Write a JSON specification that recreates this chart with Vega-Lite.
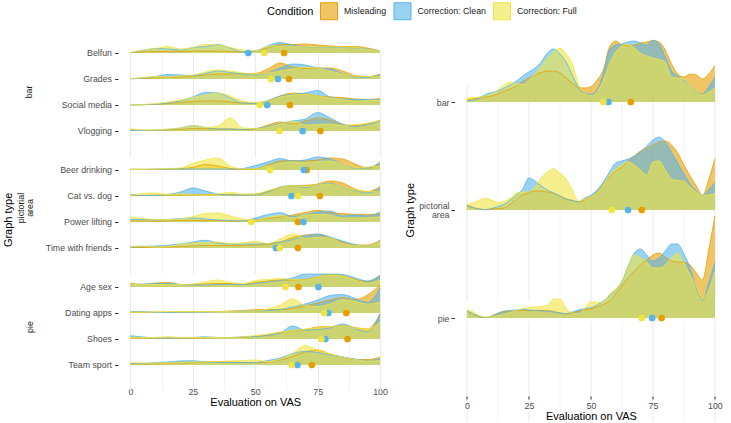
{
"$schema": "https://vega.github.io/schema/vega-lite/v6.json",
"padding": {"left": 3, "top": 2, "right": 0, "bottom": 0},
"datasets": {
"bar": [
{"i":"Belfun","c":"A","x":0,"d":0.5},{"i":"Belfun","c":"A","x":5,"d":1},{"i":"Belfun","c":"A","x":10,"d":1.5},{"i":"Belfun","c":"A","x":15,"d":1.5},{"i":"Belfun","c":"A","x":20,"d":1.5},{"i":"Belfun","c":"A","x":25,"d":2},{"i":"Belfun","c":"A","x":30,"d":2},{"i":"Belfun","c":"A","x":35,"d":2},{"i":"Belfun","c":"A","x":40,"d":1.5},{"i":"Belfun","c":"A","x":45,"d":1},{"i":"Belfun","c":"A","x":50,"d":2},{"i":"Belfun","c":"A","x":55,"d":5},{"i":"Belfun","c":"A","x":60,"d":8.5},{"i":"Belfun","c":"A","x":65,"d":8.5},{"i":"Belfun","c":"A","x":70,"d":9},{"i":"Belfun","c":"A","x":75,"d":8},{"i":"Belfun","c":"A","x":80,"d":7},{"i":"Belfun","c":"A","x":85,"d":6.5},{"i":"Belfun","c":"A","x":90,"d":6.5},{"i":"Belfun","c":"A","x":95,"d":5},{"i":"Belfun","c":"A","x":100,"d":2},
{"i":"Belfun","c":"B","x":0,"d":0.5},{"i":"Belfun","c":"B","x":5,"d":2.5},{"i":"Belfun","c":"B","x":10,"d":4.5},{"i":"Belfun","c":"B","x":15,"d":4},{"i":"Belfun","c":"B","x":20,"d":3},{"i":"Belfun","c":"B","x":25,"d":5.5},{"i":"Belfun","c":"B","x":30,"d":6.5},{"i":"Belfun","c":"B","x":35,"d":8.5},{"i":"Belfun","c":"B","x":40,"d":5},{"i":"Belfun","c":"B","x":45,"d":1},{"i":"Belfun","c":"B","x":50,"d":2},{"i":"Belfun","c":"B","x":55,"d":7},{"i":"Belfun","c":"B","x":60,"d":10.5},{"i":"Belfun","c":"B","x":65,"d":8},{"i":"Belfun","c":"B","x":70,"d":6},{"i":"Belfun","c":"B","x":75,"d":5.5},{"i":"Belfun","c":"B","x":80,"d":5.5},{"i":"Belfun","c":"B","x":85,"d":5.5},{"i":"Belfun","c":"B","x":90,"d":5},{"i":"Belfun","c":"B","x":95,"d":4},{"i":"Belfun","c":"B","x":100,"d":1.5},
{"i":"Belfun","c":"C","x":0,"d":0.5},{"i":"Belfun","c":"C","x":5,"d":3},{"i":"Belfun","c":"C","x":10,"d":4.5},{"i":"Belfun","c":"C","x":15,"d":6.5},{"i":"Belfun","c":"C","x":20,"d":4},{"i":"Belfun","c":"C","x":25,"d":5.5},{"i":"Belfun","c":"C","x":30,"d":8.5},{"i":"Belfun","c":"C","x":35,"d":8},{"i":"Belfun","c":"C","x":40,"d":5.5},{"i":"Belfun","c":"C","x":45,"d":3},{"i":"Belfun","c":"C","x":50,"d":2},{"i":"Belfun","c":"C","x":55,"d":6.5},{"i":"Belfun","c":"C","x":60,"d":7},{"i":"Belfun","c":"C","x":65,"d":6.5},{"i":"Belfun","c":"C","x":70,"d":6},{"i":"Belfun","c":"C","x":75,"d":6},{"i":"Belfun","c":"C","x":80,"d":6},{"i":"Belfun","c":"C","x":85,"d":6},{"i":"Belfun","c":"C","x":90,"d":5.5},{"i":"Belfun","c":"C","x":95,"d":3.5},{"i":"Belfun","c":"C","x":100,"d":1.5},
{"i":"Grades","c":"A","x":0,"d":0.3},{"i":"Grades","c":"A","x":5,"d":0.5},{"i":"Grades","c":"A","x":10,"d":1},{"i":"Grades","c":"A","x":15,"d":1.5},{"i":"Grades","c":"A","x":20,"d":2},{"i":"Grades","c":"A","x":25,"d":3},{"i":"Grades","c":"A","x":30,"d":4},{"i":"Grades","c":"A","x":35,"d":5},{"i":"Grades","c":"A","x":40,"d":5},{"i":"Grades","c":"A","x":45,"d":5.5},{"i":"Grades","c":"A","x":50,"d":5.5},{"i":"Grades","c":"A","x":55,"d":10},{"i":"Grades","c":"A","x":60,"d":16},{"i":"Grades","c":"A","x":65,"d":12},{"i":"Grades","c":"A","x":70,"d":10.5},{"i":"Grades","c":"A","x":75,"d":11},{"i":"Grades","c":"A","x":80,"d":11},{"i":"Grades","c":"A","x":85,"d":8},{"i":"Grades","c":"A","x":90,"d":3.5},{"i":"Grades","c":"A","x":95,"d":2.5},{"i":"Grades","c":"A","x":100,"d":4.5},
{"i":"Grades","c":"B","x":0,"d":0.3},{"i":"Grades","c":"B","x":5,"d":1},{"i":"Grades","c":"B","x":10,"d":2.5},{"i":"Grades","c":"B","x":15,"d":4.5},{"i":"Grades","c":"B","x":20,"d":4},{"i":"Grades","c":"B","x":25,"d":3.5},{"i":"Grades","c":"B","x":30,"d":5.5},{"i":"Grades","c":"B","x":35,"d":8},{"i":"Grades","c":"B","x":40,"d":6.5},{"i":"Grades","c":"B","x":45,"d":5},{"i":"Grades","c":"B","x":50,"d":4},{"i":"Grades","c":"B","x":55,"d":6},{"i":"Grades","c":"B","x":60,"d":11},{"i":"Grades","c":"B","x":65,"d":15},{"i":"Grades","c":"B","x":70,"d":14},{"i":"Grades","c":"B","x":75,"d":11},{"i":"Grades","c":"B","x":80,"d":10},{"i":"Grades","c":"B","x":85,"d":5.5},{"i":"Grades","c":"B","x":90,"d":2},{"i":"Grades","c":"B","x":95,"d":1.5},{"i":"Grades","c":"B","x":100,"d":4.5},
{"i":"Grades","c":"C","x":0,"d":0.3},{"i":"Grades","c":"C","x":5,"d":1.5},{"i":"Grades","c":"C","x":10,"d":2.5},{"i":"Grades","c":"C","x":15,"d":2},{"i":"Grades","c":"C","x":20,"d":3},{"i":"Grades","c":"C","x":25,"d":4},{"i":"Grades","c":"C","x":30,"d":7},{"i":"Grades","c":"C","x":35,"d":9},{"i":"Grades","c":"C","x":40,"d":8},{"i":"Grades","c":"C","x":45,"d":6},{"i":"Grades","c":"C","x":50,"d":5},{"i":"Grades","c":"C","x":55,"d":6},{"i":"Grades","c":"C","x":60,"d":8},{"i":"Grades","c":"C","x":65,"d":10},{"i":"Grades","c":"C","x":70,"d":11.5},{"i":"Grades","c":"C","x":75,"d":11},{"i":"Grades","c":"C","x":80,"d":8},{"i":"Grades","c":"C","x":85,"d":5},{"i":"Grades","c":"C","x":90,"d":3},{"i":"Grades","c":"C","x":95,"d":2.5},{"i":"Grades","c":"C","x":100,"d":2.3},
{"i":"Social media","c":"A","x":0,"d":0},{"i":"Social media","c":"A","x":5,"d":0.3},{"i":"Social media","c":"A","x":10,"d":0.5},{"i":"Social media","c":"A","x":15,"d":1.5},{"i":"Social media","c":"A","x":20,"d":2.5},{"i":"Social media","c":"A","x":25,"d":3.5},{"i":"Social media","c":"A","x":30,"d":4},{"i":"Social media","c":"A","x":35,"d":4},{"i":"Social media","c":"A","x":40,"d":3},{"i":"Social media","c":"A","x":45,"d":2},{"i":"Social media","c":"A","x":50,"d":2},{"i":"Social media","c":"A","x":55,"d":4},{"i":"Social media","c":"A","x":60,"d":9},{"i":"Social media","c":"A","x":65,"d":12},{"i":"Social media","c":"A","x":70,"d":11},{"i":"Social media","c":"A","x":75,"d":9},{"i":"Social media","c":"A","x":80,"d":8},{"i":"Social media","c":"A","x":85,"d":7.5},{"i":"Social media","c":"A","x":90,"d":6},{"i":"Social media","c":"A","x":95,"d":5.5},{"i":"Social media","c":"A","x":100,"d":6.5},
{"i":"Social media","c":"B","x":0,"d":0},{"i":"Social media","c":"B","x":5,"d":0.3},{"i":"Social media","c":"B","x":10,"d":0.8},{"i":"Social media","c":"B","x":15,"d":2},{"i":"Social media","c":"B","x":20,"d":4},{"i":"Social media","c":"B","x":25,"d":8},{"i":"Social media","c":"B","x":30,"d":12.5},{"i":"Social media","c":"B","x":35,"d":12},{"i":"Social media","c":"B","x":40,"d":7},{"i":"Social media","c":"B","x":45,"d":2},{"i":"Social media","c":"B","x":50,"d":1.5},{"i":"Social media","c":"B","x":55,"d":4.5},{"i":"Social media","c":"B","x":60,"d":9},{"i":"Social media","c":"B","x":65,"d":10.5},{"i":"Social media","c":"B","x":70,"d":12},{"i":"Social media","c":"B","x":75,"d":14.5},{"i":"Social media","c":"B","x":80,"d":8},{"i":"Social media","c":"B","x":85,"d":6},{"i":"Social media","c":"B","x":90,"d":5.5},{"i":"Social media","c":"B","x":95,"d":5.5},{"i":"Social media","c":"B","x":100,"d":5.5},
{"i":"Social media","c":"C","x":0,"d":0},{"i":"Social media","c":"C","x":5,"d":0.5},{"i":"Social media","c":"C","x":10,"d":1.5},{"i":"Social media","c":"C","x":15,"d":3},{"i":"Social media","c":"C","x":20,"d":5},{"i":"Social media","c":"C","x":25,"d":7.5},{"i":"Social media","c":"C","x":30,"d":10},{"i":"Social media","c":"C","x":35,"d":12},{"i":"Social media","c":"C","x":40,"d":9},{"i":"Social media","c":"C","x":45,"d":4},{"i":"Social media","c":"C","x":50,"d":2.5},{"i":"Social media","c":"C","x":55,"d":4},{"i":"Social media","c":"C","x":60,"d":8},{"i":"Social media","c":"C","x":65,"d":10},{"i":"Social media","c":"C","x":70,"d":10.5},{"i":"Social media","c":"C","x":75,"d":9},{"i":"Social media","c":"C","x":80,"d":7},{"i":"Social media","c":"C","x":85,"d":5.5},{"i":"Social media","c":"C","x":90,"d":4},{"i":"Social media","c":"C","x":95,"d":4.5},{"i":"Social media","c":"C","x":100,"d":5},
{"i":"Vlogging","c":"A","x":0,"d":1},{"i":"Vlogging","c":"A","x":5,"d":0.8},{"i":"Vlogging","c":"A","x":10,"d":0.8},{"i":"Vlogging","c":"A","x":15,"d":1},{"i":"Vlogging","c":"A","x":20,"d":1.5},{"i":"Vlogging","c":"A","x":25,"d":2.5},{"i":"Vlogging","c":"A","x":30,"d":2.5},{"i":"Vlogging","c":"A","x":35,"d":2},{"i":"Vlogging","c":"A","x":40,"d":2},{"i":"Vlogging","c":"A","x":45,"d":1.5},{"i":"Vlogging","c":"A","x":50,"d":2},{"i":"Vlogging","c":"A","x":55,"d":6},{"i":"Vlogging","c":"A","x":60,"d":9},{"i":"Vlogging","c":"A","x":65,"d":7},{"i":"Vlogging","c":"A","x":70,"d":10},{"i":"Vlogging","c":"A","x":75,"d":13},{"i":"Vlogging","c":"A","x":80,"d":11},{"i":"Vlogging","c":"A","x":85,"d":6.5},{"i":"Vlogging","c":"A","x":90,"d":5.5},{"i":"Vlogging","c":"A","x":95,"d":7},{"i":"Vlogging","c":"A","x":100,"d":11},
{"i":"Vlogging","c":"B","x":0,"d":0.5},{"i":"Vlogging","c":"B","x":5,"d":0.5},{"i":"Vlogging","c":"B","x":10,"d":0.8},{"i":"Vlogging","c":"B","x":15,"d":1.5},{"i":"Vlogging","c":"B","x":20,"d":3},{"i":"Vlogging","c":"B","x":25,"d":5.5},{"i":"Vlogging","c":"B","x":30,"d":3.5},{"i":"Vlogging","c":"B","x":35,"d":2},{"i":"Vlogging","c":"B","x":40,"d":2},{"i":"Vlogging","c":"B","x":45,"d":1.5},{"i":"Vlogging","c":"B","x":50,"d":2.5},{"i":"Vlogging","c":"B","x":55,"d":4.5},{"i":"Vlogging","c":"B","x":60,"d":7.5},{"i":"Vlogging","c":"B","x":65,"d":10},{"i":"Vlogging","c":"B","x":70,"d":12},{"i":"Vlogging","c":"B","x":75,"d":18.5},{"i":"Vlogging","c":"B","x":80,"d":13},{"i":"Vlogging","c":"B","x":85,"d":7},{"i":"Vlogging","c":"B","x":90,"d":4.5},{"i":"Vlogging","c":"B","x":95,"d":6.5},{"i":"Vlogging","c":"B","x":100,"d":10},
{"i":"Vlogging","c":"C","x":0,"d":2.3},{"i":"Vlogging","c":"C","x":5,"d":1},{"i":"Vlogging","c":"C","x":10,"d":1},{"i":"Vlogging","c":"C","x":15,"d":2},{"i":"Vlogging","c":"C","x":20,"d":3},{"i":"Vlogging","c":"C","x":25,"d":5.5},{"i":"Vlogging","c":"C","x":30,"d":3.5},{"i":"Vlogging","c":"C","x":35,"d":5},{"i":"Vlogging","c":"C","x":40,"d":13},{"i":"Vlogging","c":"C","x":45,"d":3},{"i":"Vlogging","c":"C","x":50,"d":2.5},{"i":"Vlogging","c":"C","x":55,"d":3.5},{"i":"Vlogging","c":"C","x":60,"d":7},{"i":"Vlogging","c":"C","x":65,"d":10},{"i":"Vlogging","c":"C","x":70,"d":6},{"i":"Vlogging","c":"C","x":75,"d":6.5},{"i":"Vlogging","c":"C","x":80,"d":7},{"i":"Vlogging","c":"C","x":85,"d":5.5},{"i":"Vlogging","c":"C","x":90,"d":6.5},{"i":"Vlogging","c":"C","x":95,"d":8},{"i":"Vlogging","c":"C","x":100,"d":10.5},
{"i":"Belfun","c":"A","x":61.6,"d":0,"k":"m"},{"i":"Belfun","c":"B","x":47.2,"d":0,"k":"m"},{"i":"Belfun","c":"C","x":53.6,"d":0,"k":"m"},
{"i":"Grades","c":"A","x":63.5,"d":0,"k":"m"},{"i":"Grades","c":"B","x":59.1,"d":0,"k":"m"},{"i":"Grades","c":"C","x":56.4,"d":0,"k":"m"},
{"i":"Social media","c":"A","x":63.9,"d":0,"k":"m"},{"i":"Social media","c":"B","x":54.8,"d":0,"k":"m"},{"i":"Social media","c":"C","x":51.8,"d":0,"k":"m"},
{"i":"Vlogging","c":"A","x":76.1,"d":0,"k":"m"},{"i":"Vlogging","c":"B","x":69.0,"d":0,"k":"m"},{"i":"Vlogging","c":"C","x":59.7,"d":0,"k":"m"}
],
"pict": [
{"i":"Beer drinking","c":"A","x":0,"d":1},{"i":"Beer drinking","c":"A","x":5,"d":0.8},{"i":"Beer drinking","c":"A","x":10,"d":0.8},{"i":"Beer drinking","c":"A","x":15,"d":1},{"i":"Beer drinking","c":"A","x":20,"d":1.5},{"i":"Beer drinking","c":"A","x":25,"d":2.5},{"i":"Beer drinking","c":"A","x":30,"d":5.5},{"i":"Beer drinking","c":"A","x":35,"d":4},{"i":"Beer drinking","c":"A","x":40,"d":1.5},{"i":"Beer drinking","c":"A","x":45,"d":0.5},{"i":"Beer drinking","c":"A","x":50,"d":1},{"i":"Beer drinking","c":"A","x":55,"d":5},{"i":"Beer drinking","c":"A","x":60,"d":9},{"i":"Beer drinking","c":"A","x":65,"d":9.5},{"i":"Beer drinking","c":"A","x":70,"d":9},{"i":"Beer drinking","c":"A","x":75,"d":10},{"i":"Beer drinking","c":"A","x":80,"d":12},{"i":"Beer drinking","c":"A","x":85,"d":11},{"i":"Beer drinking","c":"A","x":90,"d":6},{"i":"Beer drinking","c":"A","x":95,"d":2},{"i":"Beer drinking","c":"A","x":100,"d":7},
{"i":"Beer drinking","c":"B","x":0,"d":0.5},{"i":"Beer drinking","c":"B","x":5,"d":0.5},{"i":"Beer drinking","c":"B","x":10,"d":0.8},{"i":"Beer drinking","c":"B","x":15,"d":1},{"i":"Beer drinking","c":"B","x":20,"d":1},{"i":"Beer drinking","c":"B","x":25,"d":1},{"i":"Beer drinking","c":"B","x":30,"d":1},{"i":"Beer drinking","c":"B","x":35,"d":1},{"i":"Beer drinking","c":"B","x":40,"d":0.8},{"i":"Beer drinking","c":"B","x":45,"d":1.5},{"i":"Beer drinking","c":"B","x":50,"d":4.5},{"i":"Beer drinking","c":"B","x":55,"d":8},{"i":"Beer drinking","c":"B","x":60,"d":11.5},{"i":"Beer drinking","c":"B","x":65,"d":9},{"i":"Beer drinking","c":"B","x":70,"d":10},{"i":"Beer drinking","c":"B","x":75,"d":13},{"i":"Beer drinking","c":"B","x":80,"d":11},{"i":"Beer drinking","c":"B","x":85,"d":6},{"i":"Beer drinking","c":"B","x":90,"d":2},{"i":"Beer drinking","c":"B","x":95,"d":2},{"i":"Beer drinking","c":"B","x":100,"d":8},
{"i":"Beer drinking","c":"C","x":0,"d":0.5},{"i":"Beer drinking","c":"C","x":5,"d":0.5},{"i":"Beer drinking","c":"C","x":10,"d":0.8},{"i":"Beer drinking","c":"C","x":15,"d":1.5},{"i":"Beer drinking","c":"C","x":20,"d":2},{"i":"Beer drinking","c":"C","x":25,"d":6.5},{"i":"Beer drinking","c":"C","x":30,"d":10},{"i":"Beer drinking","c":"C","x":35,"d":12},{"i":"Beer drinking","c":"C","x":40,"d":4},{"i":"Beer drinking","c":"C","x":45,"d":1},{"i":"Beer drinking","c":"C","x":50,"d":1},{"i":"Beer drinking","c":"C","x":55,"d":4},{"i":"Beer drinking","c":"C","x":60,"d":7},{"i":"Beer drinking","c":"C","x":65,"d":8},{"i":"Beer drinking","c":"C","x":70,"d":7.5},{"i":"Beer drinking","c":"C","x":75,"d":8.5},{"i":"Beer drinking","c":"C","x":80,"d":9},{"i":"Beer drinking","c":"C","x":85,"d":6},{"i":"Beer drinking","c":"C","x":90,"d":2.5},{"i":"Beer drinking","c":"C","x":95,"d":3},{"i":"Beer drinking","c":"C","x":100,"d":4},
{"i":"Cat vs. dog","c":"A","x":0,"d":0.5},{"i":"Cat vs. dog","c":"A","x":5,"d":0.5},{"i":"Cat vs. dog","c":"A","x":10,"d":0.8},{"i":"Cat vs. dog","c":"A","x":15,"d":1},{"i":"Cat vs. dog","c":"A","x":20,"d":1},{"i":"Cat vs. dog","c":"A","x":25,"d":1},{"i":"Cat vs. dog","c":"A","x":30,"d":1.5},{"i":"Cat vs. dog","c":"A","x":35,"d":1.5},{"i":"Cat vs. dog","c":"A","x":40,"d":1.5},{"i":"Cat vs. dog","c":"A","x":45,"d":1},{"i":"Cat vs. dog","c":"A","x":50,"d":2},{"i":"Cat vs. dog","c":"A","x":55,"d":4.5},{"i":"Cat vs. dog","c":"A","x":60,"d":8.5},{"i":"Cat vs. dog","c":"A","x":65,"d":10},{"i":"Cat vs. dog","c":"A","x":70,"d":10.5},{"i":"Cat vs. dog","c":"A","x":75,"d":12},{"i":"Cat vs. dog","c":"A","x":80,"d":15},{"i":"Cat vs. dog","c":"A","x":85,"d":13},{"i":"Cat vs. dog","c":"A","x":90,"d":7},{"i":"Cat vs. dog","c":"A","x":95,"d":4.5},{"i":"Cat vs. dog","c":"A","x":100,"d":9.3},
{"i":"Cat vs. dog","c":"B","x":0,"d":1.5},{"i":"Cat vs. dog","c":"B","x":5,"d":0.5},{"i":"Cat vs. dog","c":"B","x":10,"d":0.5},{"i":"Cat vs. dog","c":"B","x":15,"d":1.5},{"i":"Cat vs. dog","c":"B","x":20,"d":4},{"i":"Cat vs. dog","c":"B","x":25,"d":8},{"i":"Cat vs. dog","c":"B","x":30,"d":5},{"i":"Cat vs. dog","c":"B","x":35,"d":2},{"i":"Cat vs. dog","c":"B","x":40,"d":1},{"i":"Cat vs. dog","c":"B","x":45,"d":1},{"i":"Cat vs. dog","c":"B","x":50,"d":1},{"i":"Cat vs. dog","c":"B","x":55,"d":4},{"i":"Cat vs. dog","c":"B","x":60,"d":9},{"i":"Cat vs. dog","c":"B","x":65,"d":10.5},{"i":"Cat vs. dog","c":"B","x":70,"d":8.5},{"i":"Cat vs. dog","c":"B","x":75,"d":11},{"i":"Cat vs. dog","c":"B","x":80,"d":12.7},{"i":"Cat vs. dog","c":"B","x":85,"d":8.5},{"i":"Cat vs. dog","c":"B","x":90,"d":5.5},{"i":"Cat vs. dog","c":"B","x":95,"d":3},{"i":"Cat vs. dog","c":"B","x":100,"d":7.7},
{"i":"Cat vs. dog","c":"C","x":0,"d":0.5},{"i":"Cat vs. dog","c":"C","x":5,"d":2.5},{"i":"Cat vs. dog","c":"C","x":10,"d":3},{"i":"Cat vs. dog","c":"C","x":15,"d":1.5},{"i":"Cat vs. dog","c":"C","x":20,"d":2.3},{"i":"Cat vs. dog","c":"C","x":25,"d":1},{"i":"Cat vs. dog","c":"C","x":30,"d":1},{"i":"Cat vs. dog","c":"C","x":35,"d":2},{"i":"Cat vs. dog","c":"C","x":40,"d":3.7},{"i":"Cat vs. dog","c":"C","x":45,"d":2},{"i":"Cat vs. dog","c":"C","x":50,"d":2},{"i":"Cat vs. dog","c":"C","x":55,"d":5.5},{"i":"Cat vs. dog","c":"C","x":60,"d":8.5},{"i":"Cat vs. dog","c":"C","x":65,"d":10.3},{"i":"Cat vs. dog","c":"C","x":70,"d":9.3},{"i":"Cat vs. dog","c":"C","x":75,"d":11},{"i":"Cat vs. dog","c":"C","x":80,"d":12},{"i":"Cat vs. dog","c":"C","x":85,"d":8.5},{"i":"Cat vs. dog","c":"C","x":90,"d":6},{"i":"Cat vs. dog","c":"C","x":95,"d":4.5},{"i":"Cat vs. dog","c":"C","x":100,"d":4.3},
{"i":"Power lifting","c":"A","x":0,"d":1},{"i":"Power lifting","c":"A","x":5,"d":1},{"i":"Power lifting","c":"A","x":10,"d":1},{"i":"Power lifting","c":"A","x":15,"d":1},{"i":"Power lifting","c":"A","x":20,"d":1.5},{"i":"Power lifting","c":"A","x":25,"d":1.5},{"i":"Power lifting","c":"A","x":30,"d":1.5},{"i":"Power lifting","c":"A","x":35,"d":1.5},{"i":"Power lifting","c":"A","x":40,"d":1},{"i":"Power lifting","c":"A","x":45,"d":1},{"i":"Power lifting","c":"A","x":50,"d":2},{"i":"Power lifting","c":"A","x":55,"d":3.5},{"i":"Power lifting","c":"A","x":60,"d":5},{"i":"Power lifting","c":"A","x":65,"d":7},{"i":"Power lifting","c":"A","x":70,"d":9.5},{"i":"Power lifting","c":"A","x":75,"d":11.7},{"i":"Power lifting","c":"A","x":80,"d":9.5},{"i":"Power lifting","c":"A","x":85,"d":8.5},{"i":"Power lifting","c":"A","x":90,"d":7.7},{"i":"Power lifting","c":"A","x":95,"d":7.5},{"i":"Power lifting","c":"A","x":100,"d":8.3},
{"i":"Power lifting","c":"B","x":0,"d":2.7},{"i":"Power lifting","c":"B","x":5,"d":2.5},{"i":"Power lifting","c":"B","x":10,"d":2},{"i":"Power lifting","c":"B","x":15,"d":2.5},{"i":"Power lifting","c":"B","x":20,"d":3.5},{"i":"Power lifting","c":"B","x":25,"d":4},{"i":"Power lifting","c":"B","x":30,"d":3},{"i":"Power lifting","c":"B","x":35,"d":2},{"i":"Power lifting","c":"B","x":40,"d":1.5},{"i":"Power lifting","c":"B","x":45,"d":1},{"i":"Power lifting","c":"B","x":50,"d":4},{"i":"Power lifting","c":"B","x":55,"d":7.5},{"i":"Power lifting","c":"B","x":60,"d":9.3},{"i":"Power lifting","c":"B","x":65,"d":5.5},{"i":"Power lifting","c":"B","x":70,"d":7.5},{"i":"Power lifting","c":"B","x":75,"d":10},{"i":"Power lifting","c":"B","x":80,"d":11},{"i":"Power lifting","c":"B","x":85,"d":6},{"i":"Power lifting","c":"B","x":90,"d":7},{"i":"Power lifting","c":"B","x":95,"d":6},{"i":"Power lifting","c":"B","x":100,"d":10},
{"i":"Power lifting","c":"C","x":0,"d":5},{"i":"Power lifting","c":"C","x":5,"d":3.5},{"i":"Power lifting","c":"C","x":10,"d":2.5},{"i":"Power lifting","c":"C","x":15,"d":2.5},{"i":"Power lifting","c":"C","x":20,"d":3},{"i":"Power lifting","c":"C","x":25,"d":5.5},{"i":"Power lifting","c":"C","x":30,"d":8.5},{"i":"Power lifting","c":"C","x":35,"d":9},{"i":"Power lifting","c":"C","x":40,"d":6},{"i":"Power lifting","c":"C","x":45,"d":3},{"i":"Power lifting","c":"C","x":50,"d":1.5},{"i":"Power lifting","c":"C","x":55,"d":4.5},{"i":"Power lifting","c":"C","x":60,"d":6.5},{"i":"Power lifting","c":"C","x":65,"d":4},{"i":"Power lifting","c":"C","x":70,"d":7},{"i":"Power lifting","c":"C","x":75,"d":7.5},{"i":"Power lifting","c":"C","x":80,"d":7},{"i":"Power lifting","c":"C","x":85,"d":4},{"i":"Power lifting","c":"C","x":90,"d":4},{"i":"Power lifting","c":"C","x":95,"d":4.3},{"i":"Power lifting","c":"C","x":100,"d":5},
{"i":"Time with friends","c":"A","x":0,"d":0.5},{"i":"Time with friends","c":"A","x":5,"d":0.5},{"i":"Time with friends","c":"A","x":10,"d":0.8},{"i":"Time with friends","c":"A","x":15,"d":1},{"i":"Time with friends","c":"A","x":20,"d":1.5},{"i":"Time with friends","c":"A","x":25,"d":2},{"i":"Time with friends","c":"A","x":30,"d":2.5},{"i":"Time with friends","c":"A","x":35,"d":2.5},{"i":"Time with friends","c":"A","x":40,"d":2.5},{"i":"Time with friends","c":"A","x":45,"d":2.5},{"i":"Time with friends","c":"A","x":50,"d":3},{"i":"Time with friends","c":"A","x":55,"d":3.5},{"i":"Time with friends","c":"A","x":60,"d":6},{"i":"Time with friends","c":"A","x":65,"d":10.5},{"i":"Time with friends","c":"A","x":70,"d":13},{"i":"Time with friends","c":"A","x":75,"d":13.7},{"i":"Time with friends","c":"A","x":80,"d":10},{"i":"Time with friends","c":"A","x":85,"d":6},{"i":"Time with friends","c":"A","x":90,"d":3},{"i":"Time with friends","c":"A","x":95,"d":3},{"i":"Time with friends","c":"A","x":100,"d":7.7},
{"i":"Time with friends","c":"B","x":0,"d":1},{"i":"Time with friends","c":"B","x":5,"d":1.5},{"i":"Time with friends","c":"B","x":10,"d":2},{"i":"Time with friends","c":"B","x":15,"d":2.7},{"i":"Time with friends","c":"B","x":20,"d":4},{"i":"Time with friends","c":"B","x":25,"d":6},{"i":"Time with friends","c":"B","x":30,"d":7.7},{"i":"Time with friends","c":"B","x":35,"d":5},{"i":"Time with friends","c":"B","x":40,"d":4},{"i":"Time with friends","c":"B","x":45,"d":4},{"i":"Time with friends","c":"B","x":50,"d":4},{"i":"Time with friends","c":"B","x":55,"d":4.5},{"i":"Time with friends","c":"B","x":60,"d":6},{"i":"Time with friends","c":"B","x":65,"d":8.5},{"i":"Time with friends","c":"B","x":70,"d":12},{"i":"Time with friends","c":"B","x":75,"d":14},{"i":"Time with friends","c":"B","x":80,"d":11},{"i":"Time with friends","c":"B","x":85,"d":7},{"i":"Time with friends","c":"B","x":90,"d":3.5},{"i":"Time with friends","c":"B","x":95,"d":1.8},{"i":"Time with friends","c":"B","x":100,"d":7.7},
{"i":"Time with friends","c":"C","x":0,"d":1.5},{"i":"Time with friends","c":"C","x":5,"d":2},{"i":"Time with friends","c":"C","x":10,"d":1},{"i":"Time with friends","c":"C","x":15,"d":1.5},{"i":"Time with friends","c":"C","x":20,"d":3.5},{"i":"Time with friends","c":"C","x":25,"d":5},{"i":"Time with friends","c":"C","x":30,"d":5.5},{"i":"Time with friends","c":"C","x":35,"d":6},{"i":"Time with friends","c":"C","x":40,"d":4.5},{"i":"Time with friends","c":"C","x":45,"d":5},{"i":"Time with friends","c":"C","x":50,"d":6.7},{"i":"Time with friends","c":"C","x":55,"d":4.5},{"i":"Time with friends","c":"C","x":60,"d":9},{"i":"Time with friends","c":"C","x":65,"d":14},{"i":"Time with friends","c":"C","x":70,"d":9.5},{"i":"Time with friends","c":"C","x":75,"d":10.5},{"i":"Time with friends","c":"C","x":80,"d":10},{"i":"Time with friends","c":"C","x":85,"d":4.5},{"i":"Time with friends","c":"C","x":90,"d":2.5},{"i":"Time with friends","c":"C","x":95,"d":2},{"i":"Time with friends","c":"C","x":100,"d":7},
{"i":"Beer drinking","c":"A","x":70.6,"d":0,"k":"m"},{"i":"Beer drinking","c":"B","x":69.5,"d":0,"k":"m"},{"i":"Beer drinking","c":"C","x":55.9,"d":0,"k":"m"},
{"i":"Cat vs. dog","c":"A","x":75.9,"d":0,"k":"m"},{"i":"Cat vs. dog","c":"B","x":64.5,"d":0,"k":"m"},{"i":"Cat vs. dog","c":"C","x":67.1,"d":0,"k":"m"},
{"i":"Power lifting","c":"A","x":67.1,"d":0,"k":"m"},{"i":"Power lifting","c":"B","x":69.3,"d":0,"k":"m"},{"i":"Power lifting","c":"C","x":48.4,"d":0,"k":"m"},
{"i":"Time with friends","c":"A","x":67.1,"d":0,"k":"m"},{"i":"Time with friends","c":"B","x":58.3,"d":0,"k":"m"},{"i":"Time with friends","c":"C","x":59.8,"d":0,"k":"m"}
],
"pie": [
{"i":"Age sex","c":"A","x":0,"d":3.7},{"i":"Age sex","c":"A","x":5,"d":2.5},{"i":"Age sex","c":"A","x":10,"d":4},{"i":"Age sex","c":"A","x":15,"d":4.5},{"i":"Age sex","c":"A","x":20,"d":2.5},{"i":"Age sex","c":"A","x":25,"d":2.5},{"i":"Age sex","c":"A","x":30,"d":3},{"i":"Age sex","c":"A","x":35,"d":3.5},{"i":"Age sex","c":"A","x":40,"d":3.5},{"i":"Age sex","c":"A","x":45,"d":2.5},{"i":"Age sex","c":"A","x":50,"d":4.5},{"i":"Age sex","c":"A","x":55,"d":6},{"i":"Age sex","c":"A","x":60,"d":7},{"i":"Age sex","c":"A","x":65,"d":7},{"i":"Age sex","c":"A","x":70,"d":7.5},{"i":"Age sex","c":"A","x":75,"d":10},{"i":"Age sex","c":"A","x":80,"d":12.5},{"i":"Age sex","c":"A","x":85,"d":11.5},{"i":"Age sex","c":"A","x":90,"d":7.5},{"i":"Age sex","c":"A","x":95,"d":5.5},{"i":"Age sex","c":"A","x":100,"d":12},
{"i":"Age sex","c":"B","x":0,"d":2.5},{"i":"Age sex","c":"B","x":5,"d":3},{"i":"Age sex","c":"B","x":10,"d":3.5},{"i":"Age sex","c":"B","x":15,"d":3.5},{"i":"Age sex","c":"B","x":20,"d":2.5},{"i":"Age sex","c":"B","x":25,"d":2},{"i":"Age sex","c":"B","x":30,"d":2},{"i":"Age sex","c":"B","x":35,"d":2.5},{"i":"Age sex","c":"B","x":40,"d":2.5},{"i":"Age sex","c":"B","x":45,"d":2.5},{"i":"Age sex","c":"B","x":50,"d":3.5},{"i":"Age sex","c":"B","x":55,"d":5},{"i":"Age sex","c":"B","x":60,"d":6.5},{"i":"Age sex","c":"B","x":65,"d":9},{"i":"Age sex","c":"B","x":70,"d":12.9},{"i":"Age sex","c":"B","x":75,"d":12.9},{"i":"Age sex","c":"B","x":80,"d":12.9},{"i":"Age sex","c":"B","x":85,"d":12.5},{"i":"Age sex","c":"B","x":90,"d":9},{"i":"Age sex","c":"B","x":95,"d":6},{"i":"Age sex","c":"B","x":100,"d":11.3},
{"i":"Age sex","c":"C","x":0,"d":2.5},{"i":"Age sex","c":"C","x":5,"d":2.5},{"i":"Age sex","c":"C","x":10,"d":2.5},{"i":"Age sex","c":"C","x":15,"d":2.5},{"i":"Age sex","c":"C","x":20,"d":2.5},{"i":"Age sex","c":"C","x":25,"d":3},{"i":"Age sex","c":"C","x":30,"d":5},{"i":"Age sex","c":"C","x":35,"d":7},{"i":"Age sex","c":"C","x":40,"d":4.5},{"i":"Age sex","c":"C","x":45,"d":3.5},{"i":"Age sex","c":"C","x":50,"d":6.5},{"i":"Age sex","c":"C","x":55,"d":7.5},{"i":"Age sex","c":"C","x":60,"d":8.5},{"i":"Age sex","c":"C","x":65,"d":7.5},{"i":"Age sex","c":"C","x":70,"d":7},{"i":"Age sex","c":"C","x":75,"d":10},{"i":"Age sex","c":"C","x":80,"d":12},{"i":"Age sex","c":"C","x":85,"d":11},{"i":"Age sex","c":"C","x":90,"d":7},{"i":"Age sex","c":"C","x":95,"d":4},{"i":"Age sex","c":"C","x":100,"d":7},
{"i":"Dating apps","c":"A","x":0,"d":1},{"i":"Dating apps","c":"A","x":5,"d":1},{"i":"Dating apps","c":"A","x":10,"d":1},{"i":"Dating apps","c":"A","x":15,"d":1},{"i":"Dating apps","c":"A","x":20,"d":1},{"i":"Dating apps","c":"A","x":25,"d":1.5},{"i":"Dating apps","c":"A","x":30,"d":1.5},{"i":"Dating apps","c":"A","x":35,"d":1.5},{"i":"Dating apps","c":"A","x":40,"d":2},{"i":"Dating apps","c":"A","x":45,"d":2.5},{"i":"Dating apps","c":"A","x":50,"d":3.3},{"i":"Dating apps","c":"A","x":55,"d":3.5},{"i":"Dating apps","c":"A","x":60,"d":3.5},{"i":"Dating apps","c":"A","x":65,"d":4.5},{"i":"Dating apps","c":"A","x":70,"d":7},{"i":"Dating apps","c":"A","x":75,"d":10},{"i":"Dating apps","c":"A","x":80,"d":13},{"i":"Dating apps","c":"A","x":85,"d":15.5},{"i":"Dating apps","c":"A","x":90,"d":13.5},{"i":"Dating apps","c":"A","x":95,"d":18},{"i":"Dating apps","c":"A","x":100,"d":28},
{"i":"Dating apps","c":"B","x":0,"d":1.5},{"i":"Dating apps","c":"B","x":5,"d":1.5},{"i":"Dating apps","c":"B","x":10,"d":0.5},{"i":"Dating apps","c":"B","x":15,"d":0.5},{"i":"Dating apps","c":"B","x":20,"d":1},{"i":"Dating apps","c":"B","x":25,"d":1},{"i":"Dating apps","c":"B","x":30,"d":1},{"i":"Dating apps","c":"B","x":35,"d":1.5},{"i":"Dating apps","c":"B","x":40,"d":1.5},{"i":"Dating apps","c":"B","x":45,"d":2},{"i":"Dating apps","c":"B","x":50,"d":2},{"i":"Dating apps","c":"B","x":55,"d":2.5},{"i":"Dating apps","c":"B","x":60,"d":3.5},{"i":"Dating apps","c":"B","x":65,"d":6},{"i":"Dating apps","c":"B","x":70,"d":9},{"i":"Dating apps","c":"B","x":75,"d":13},{"i":"Dating apps","c":"B","x":80,"d":17.5},{"i":"Dating apps","c":"B","x":85,"d":18.5},{"i":"Dating apps","c":"B","x":90,"d":14.5},{"i":"Dating apps","c":"B","x":95,"d":10.5},{"i":"Dating apps","c":"B","x":100,"d":25},
{"i":"Dating apps","c":"C","x":0,"d":1},{"i":"Dating apps","c":"C","x":5,"d":1},{"i":"Dating apps","c":"C","x":10,"d":1},{"i":"Dating apps","c":"C","x":15,"d":1.5},{"i":"Dating apps","c":"C","x":20,"d":1.5},{"i":"Dating apps","c":"C","x":25,"d":1.5},{"i":"Dating apps","c":"C","x":30,"d":1.5},{"i":"Dating apps","c":"C","x":35,"d":1.5},{"i":"Dating apps","c":"C","x":40,"d":1.5},{"i":"Dating apps","c":"C","x":45,"d":2},{"i":"Dating apps","c":"C","x":50,"d":2},{"i":"Dating apps","c":"C","x":55,"d":4},{"i":"Dating apps","c":"C","x":60,"d":8},{"i":"Dating apps","c":"C","x":65,"d":14},{"i":"Dating apps","c":"C","x":70,"d":7.5},{"i":"Dating apps","c":"C","x":75,"d":6.5},{"i":"Dating apps","c":"C","x":80,"d":9},{"i":"Dating apps","c":"C","x":85,"d":13.3},{"i":"Dating apps","c":"C","x":90,"d":11.5},{"i":"Dating apps","c":"C","x":95,"d":9},{"i":"Dating apps","c":"C","x":100,"d":11},
{"i":"Shoes","c":"A","x":0,"d":1},{"i":"Shoes","c":"A","x":5,"d":1},{"i":"Shoes","c":"A","x":10,"d":1},{"i":"Shoes","c":"A","x":15,"d":1},{"i":"Shoes","c":"A","x":20,"d":1},{"i":"Shoes","c":"A","x":25,"d":1},{"i":"Shoes","c":"A","x":30,"d":1},{"i":"Shoes","c":"A","x":35,"d":1.5},{"i":"Shoes","c":"A","x":40,"d":1.5},{"i":"Shoes","c":"A","x":45,"d":2},{"i":"Shoes","c":"A","x":50,"d":2.5},{"i":"Shoes","c":"A","x":55,"d":4},{"i":"Shoes","c":"A","x":60,"d":6.5},{"i":"Shoes","c":"A","x":65,"d":8.3},{"i":"Shoes","c":"A","x":70,"d":9.5},{"i":"Shoes","c":"A","x":75,"d":12},{"i":"Shoes","c":"A","x":80,"d":12.5},{"i":"Shoes","c":"A","x":85,"d":13.3},{"i":"Shoes","c":"A","x":90,"d":11.5},{"i":"Shoes","c":"A","x":95,"d":10},{"i":"Shoes","c":"A","x":100,"d":25},
{"i":"Shoes","c":"B","x":0,"d":3.3},{"i":"Shoes","c":"B","x":5,"d":2},{"i":"Shoes","c":"B","x":10,"d":1},{"i":"Shoes","c":"B","x":15,"d":1},{"i":"Shoes","c":"B","x":20,"d":1},{"i":"Shoes","c":"B","x":25,"d":1.5},{"i":"Shoes","c":"B","x":30,"d":2.3},{"i":"Shoes","c":"B","x":35,"d":1.5},{"i":"Shoes","c":"B","x":40,"d":1.5},{"i":"Shoes","c":"B","x":45,"d":2},{"i":"Shoes","c":"B","x":50,"d":2.5},{"i":"Shoes","c":"B","x":55,"d":3.5},{"i":"Shoes","c":"B","x":60,"d":6},{"i":"Shoes","c":"B","x":65,"d":13},{"i":"Shoes","c":"B","x":70,"d":9},{"i":"Shoes","c":"B","x":75,"d":9.5},{"i":"Shoes","c":"B","x":80,"d":11},{"i":"Shoes","c":"B","x":85,"d":15},{"i":"Shoes","c":"B","x":90,"d":10.5},{"i":"Shoes","c":"B","x":95,"d":7},{"i":"Shoes","c":"B","x":100,"d":25},
{"i":"Shoes","c":"C","x":0,"d":1.5},{"i":"Shoes","c":"C","x":5,"d":1.5},{"i":"Shoes","c":"C","x":10,"d":1.5},{"i":"Shoes","c":"C","x":15,"d":2.3},{"i":"Shoes","c":"C","x":20,"d":1.5},{"i":"Shoes","c":"C","x":25,"d":1.5},{"i":"Shoes","c":"C","x":30,"d":1.5},{"i":"Shoes","c":"C","x":35,"d":1.5},{"i":"Shoes","c":"C","x":40,"d":1.5},{"i":"Shoes","c":"C","x":45,"d":2},{"i":"Shoes","c":"C","x":50,"d":3.5},{"i":"Shoes","c":"C","x":55,"d":5},{"i":"Shoes","c":"C","x":60,"d":7},{"i":"Shoes","c":"C","x":65,"d":8.5},{"i":"Shoes","c":"C","x":70,"d":10},{"i":"Shoes","c":"C","x":75,"d":11},{"i":"Shoes","c":"C","x":80,"d":12.5},{"i":"Shoes","c":"C","x":85,"d":13},{"i":"Shoes","c":"C","x":90,"d":11},{"i":"Shoes","c":"C","x":95,"d":10},{"i":"Shoes","c":"C","x":100,"d":16.7},
{"i":"Team sport","c":"A","x":0,"d":1},{"i":"Team sport","c":"A","x":5,"d":1},{"i":"Team sport","c":"A","x":10,"d":1},{"i":"Team sport","c":"A","x":15,"d":1.5},{"i":"Team sport","c":"A","x":20,"d":2},{"i":"Team sport","c":"A","x":25,"d":2.5},{"i":"Team sport","c":"A","x":30,"d":3},{"i":"Team sport","c":"A","x":35,"d":3.5},{"i":"Team sport","c":"A","x":40,"d":3},{"i":"Team sport","c":"A","x":45,"d":2.5},{"i":"Team sport","c":"A","x":50,"d":2.5},{"i":"Team sport","c":"A","x":55,"d":3},{"i":"Team sport","c":"A","x":60,"d":5},{"i":"Team sport","c":"A","x":65,"d":8.5},{"i":"Team sport","c":"A","x":70,"d":13},{"i":"Team sport","c":"A","x":75,"d":15},{"i":"Team sport","c":"A","x":80,"d":11},{"i":"Team sport","c":"A","x":85,"d":8},{"i":"Team sport","c":"A","x":90,"d":5.5},{"i":"Team sport","c":"A","x":95,"d":5.5},{"i":"Team sport","c":"A","x":100,"d":7.7},
{"i":"Team sport","c":"B","x":0,"d":1.5},{"i":"Team sport","c":"B","x":5,"d":1.5},{"i":"Team sport","c":"B","x":10,"d":2.5},{"i":"Team sport","c":"B","x":15,"d":3},{"i":"Team sport","c":"B","x":20,"d":4},{"i":"Team sport","c":"B","x":25,"d":4.3},{"i":"Team sport","c":"B","x":30,"d":3},{"i":"Team sport","c":"B","x":35,"d":2.5},{"i":"Team sport","c":"B","x":40,"d":2.5},{"i":"Team sport","c":"B","x":45,"d":2.5},{"i":"Team sport","c":"B","x":50,"d":2.5},{"i":"Team sport","c":"B","x":55,"d":4.5},{"i":"Team sport","c":"B","x":60,"d":7},{"i":"Team sport","c":"B","x":65,"d":11.5},{"i":"Team sport","c":"B","x":70,"d":13.5},{"i":"Team sport","c":"B","x":75,"d":12.5},{"i":"Team sport","c":"B","x":80,"d":10},{"i":"Team sport","c":"B","x":85,"d":8},{"i":"Team sport","c":"B","x":90,"d":6},{"i":"Team sport","c":"B","x":95,"d":4.5},{"i":"Team sport","c":"B","x":100,"d":6},
{"i":"Team sport","c":"C","x":0,"d":2.3},{"i":"Team sport","c":"C","x":5,"d":2},{"i":"Team sport","c":"C","x":10,"d":2},{"i":"Team sport","c":"C","x":15,"d":2},{"i":"Team sport","c":"C","x":20,"d":2.5},{"i":"Team sport","c":"C","x":25,"d":3},{"i":"Team sport","c":"C","x":30,"d":3},{"i":"Team sport","c":"C","x":35,"d":3.5},{"i":"Team sport","c":"C","x":40,"d":4},{"i":"Team sport","c":"C","x":45,"d":4.5},{"i":"Team sport","c":"C","x":50,"d":5},{"i":"Team sport","c":"C","x":55,"d":3.5},{"i":"Team sport","c":"C","x":60,"d":6},{"i":"Team sport","c":"C","x":65,"d":12},{"i":"Team sport","c":"C","x":70,"d":19.3},{"i":"Team sport","c":"C","x":75,"d":15},{"i":"Team sport","c":"C","x":80,"d":11},{"i":"Team sport","c":"C","x":85,"d":8},{"i":"Team sport","c":"C","x":90,"d":5.5},{"i":"Team sport","c":"C","x":95,"d":4},{"i":"Team sport","c":"C","x":100,"d":4.3},
{"i":"Age sex","c":"A","x":67.3,"d":0,"k":"m"},{"i":"Age sex","c":"B","x":75.3,"d":0,"k":"m"},{"i":"Age sex","c":"C","x":62.1,"d":0,"k":"m"},
{"i":"Dating apps","c":"A","x":86.5,"d":0,"k":"m"},{"i":"Dating apps","c":"B","x":79.3,"d":0,"k":"m"},{"i":"Dating apps","c":"C","x":77.6,"d":0,"k":"m"},
{"i":"Shoes","c":"A","x":87.0,"d":0,"k":"m"},{"i":"Shoes","c":"B","x":78.1,"d":0,"k":"m"},{"i":"Shoes","c":"C","x":76.5,"d":0,"k":"m"},
{"i":"Team sport","c":"A","x":72.7,"d":0,"k":"m"},{"i":"Team sport","c":"B","x":66.9,"d":0,"k":"m"},{"i":"Team sport","c":"C","x":64.6,"d":0,"k":"m"}
],
"right": [
{"g":"bar","c":"A","x":0,"d":2},{"g":"bar","c":"A","x":2.5,"d":3},{"g":"bar","c":"A","x":5,"d":4},{"g":"bar","c":"A","x":7.5,"d":5},{"g":"bar","c":"A","x":10,"d":6},{"g":"bar","c":"A","x":12.5,"d":8},{"g":"bar","c":"A","x":15,"d":11},{"g":"bar","c":"A","x":17.5,"d":13},{"g":"bar","c":"A","x":20,"d":16},{"g":"bar","c":"A","x":22.5,"d":20.5},{"g":"bar","c":"A","x":25,"d":24},{"g":"bar","c":"A","x":27.5,"d":27},{"g":"bar","c":"A","x":30,"d":29.5},{"g":"bar","c":"A","x":32.5,"d":31},{"g":"bar","c":"A","x":35,"d":31},{"g":"bar","c":"A","x":37.5,"d":29},{"g":"bar","c":"A","x":40,"d":24},{"g":"bar","c":"A","x":42.5,"d":19},{"g":"bar","c":"A","x":45,"d":14.5},{"g":"bar","c":"A","x":47.5,"d":14},{"g":"bar","c":"A","x":50,"d":15.3},{"g":"bar","c":"A","x":52.5,"d":22},{"g":"bar","c":"A","x":55,"d":32},{"g":"bar","c":"A","x":57.5,"d":55},{"g":"bar","c":"A","x":60,"d":61},{"g":"bar","c":"A","x":62.5,"d":57},{"g":"bar","c":"A","x":65,"d":56},{"g":"bar","c":"A","x":67.5,"d":57},{"g":"bar","c":"A","x":70,"d":59},{"g":"bar","c":"A","x":72.5,"d":60},{"g":"bar","c":"A","x":75,"d":61.5},{"g":"bar","c":"A","x":77.5,"d":60},{"g":"bar","c":"A","x":80,"d":52},{"g":"bar","c":"A","x":82.5,"d":38},{"g":"bar","c":"A","x":85,"d":28},{"g":"bar","c":"A","x":87.5,"d":25},{"g":"bar","c":"A","x":90,"d":28},{"g":"bar","c":"A","x":92.5,"d":27},{"g":"bar","c":"A","x":95,"d":23},{"g":"bar","c":"A","x":97.5,"d":28},{"g":"bar","c":"A","x":100,"d":36.3},
{"g":"bar","c":"B","x":0,"d":1},{"g":"bar","c":"B","x":2.5,"d":2},{"g":"bar","c":"B","x":5,"d":4},{"g":"bar","c":"B","x":7.5,"d":7.5},{"g":"bar","c":"B","x":10,"d":9.5},{"g":"bar","c":"B","x":12.5,"d":11},{"g":"bar","c":"B","x":15,"d":14},{"g":"bar","c":"B","x":17.5,"d":17},{"g":"bar","c":"B","x":20,"d":21},{"g":"bar","c":"B","x":22.5,"d":26},{"g":"bar","c":"B","x":25,"d":30},{"g":"bar","c":"B","x":27.5,"d":34},{"g":"bar","c":"B","x":30,"d":40},{"g":"bar","c":"B","x":32.5,"d":49},{"g":"bar","c":"B","x":35,"d":53},{"g":"bar","c":"B","x":37.5,"d":48},{"g":"bar","c":"B","x":40,"d":40},{"g":"bar","c":"B","x":42.5,"d":27},{"g":"bar","c":"B","x":45,"d":14},{"g":"bar","c":"B","x":47.5,"d":9},{"g":"bar","c":"B","x":50,"d":7.7},{"g":"bar","c":"B","x":52.5,"d":12},{"g":"bar","c":"B","x":55,"d":28},{"g":"bar","c":"B","x":57.5,"d":52},{"g":"bar","c":"B","x":60,"d":57},{"g":"bar","c":"B","x":62.5,"d":58},{"g":"bar","c":"B","x":65,"d":60},{"g":"bar","c":"B","x":67.5,"d":61},{"g":"bar","c":"B","x":70,"d":59},{"g":"bar","c":"B","x":72.5,"d":57},{"g":"bar","c":"B","x":75,"d":61.8},{"g":"bar","c":"B","x":77.5,"d":58},{"g":"bar","c":"B","x":80,"d":45},{"g":"bar","c":"B","x":82.5,"d":31},{"g":"bar","c":"B","x":85,"d":26},{"g":"bar","c":"B","x":87.5,"d":22},{"g":"bar","c":"B","x":90,"d":17},{"g":"bar","c":"B","x":92.5,"d":11},{"g":"bar","c":"B","x":95,"d":8},{"g":"bar","c":"B","x":97.5,"d":15},{"g":"bar","c":"B","x":100,"d":25},
{"g":"bar","c":"C","x":0,"d":3.7},{"g":"bar","c":"C","x":2.5,"d":4.5},{"g":"bar","c":"C","x":5,"d":5},{"g":"bar","c":"C","x":7.5,"d":6},{"g":"bar","c":"C","x":10,"d":8},{"g":"bar","c":"C","x":12.5,"d":12},{"g":"bar","c":"C","x":15,"d":17},{"g":"bar","c":"C","x":17.5,"d":19.7},{"g":"bar","c":"C","x":20,"d":18},{"g":"bar","c":"C","x":22.5,"d":17.5},{"g":"bar","c":"C","x":25,"d":22},{"g":"bar","c":"C","x":27.5,"d":28},{"g":"bar","c":"C","x":30,"d":36},{"g":"bar","c":"C","x":32.5,"d":44},{"g":"bar","c":"C","x":35,"d":50},{"g":"bar","c":"C","x":37.5,"d":53.7},{"g":"bar","c":"C","x":40,"d":48},{"g":"bar","c":"C","x":42.5,"d":38},{"g":"bar","c":"C","x":45,"d":18},{"g":"bar","c":"C","x":47.5,"d":9},{"g":"bar","c":"C","x":50,"d":6.3},{"g":"bar","c":"C","x":52.5,"d":10},{"g":"bar","c":"C","x":55,"d":22},{"g":"bar","c":"C","x":57.5,"d":38},{"g":"bar","c":"C","x":60,"d":50},{"g":"bar","c":"C","x":62.5,"d":56},{"g":"bar","c":"C","x":65,"d":57.7},{"g":"bar","c":"C","x":67.5,"d":54},{"g":"bar","c":"C","x":70,"d":48.7},{"g":"bar","c":"C","x":72.5,"d":46},{"g":"bar","c":"C","x":75,"d":44},{"g":"bar","c":"C","x":77.5,"d":42.5},{"g":"bar","c":"C","x":80,"d":40},{"g":"bar","c":"C","x":82.5,"d":25},{"g":"bar","c":"C","x":85,"d":24},{"g":"bar","c":"C","x":87.5,"d":23},{"g":"bar","c":"C","x":90,"d":17},{"g":"bar","c":"C","x":92.5,"d":12},{"g":"bar","c":"C","x":95,"d":7},{"g":"bar","c":"C","x":97.5,"d":10},{"g":"bar","c":"C","x":100,"d":13.7},
{"g":"pictorial area","c":"A","x":0,"d":4.7},{"g":"pictorial area","c":"A","x":2.5,"d":2.5},{"g":"pictorial area","c":"A","x":5,"d":1},{"g":"pictorial area","c":"A","x":7.5,"d":0.5},{"g":"pictorial area","c":"A","x":10,"d":1},{"g":"pictorial area","c":"A","x":12.5,"d":1.5},{"g":"pictorial area","c":"A","x":15,"d":2},{"g":"pictorial area","c":"A","x":17.5,"d":6},{"g":"pictorial area","c":"A","x":20,"d":11},{"g":"pictorial area","c":"A","x":22.5,"d":15},{"g":"pictorial area","c":"A","x":25,"d":17.5},{"g":"pictorial area","c":"A","x":27.5,"d":19},{"g":"pictorial area","c":"A","x":30,"d":19},{"g":"pictorial area","c":"A","x":32.5,"d":18},{"g":"pictorial area","c":"A","x":35,"d":16.7},{"g":"pictorial area","c":"A","x":37.5,"d":14},{"g":"pictorial area","c":"A","x":40,"d":11},{"g":"pictorial area","c":"A","x":42.5,"d":9.5},{"g":"pictorial area","c":"A","x":45,"d":8},{"g":"pictorial area","c":"A","x":47.5,"d":10},{"g":"pictorial area","c":"A","x":50,"d":13.3},{"g":"pictorial area","c":"A","x":52.5,"d":18},{"g":"pictorial area","c":"A","x":55,"d":26},{"g":"pictorial area","c":"A","x":57.5,"d":33},{"g":"pictorial area","c":"A","x":60,"d":39},{"g":"pictorial area","c":"A","x":62.5,"d":43},{"g":"pictorial area","c":"A","x":65,"d":49},{"g":"pictorial area","c":"A","x":67.5,"d":54},{"g":"pictorial area","c":"A","x":70,"d":59},{"g":"pictorial area","c":"A","x":72.5,"d":62},{"g":"pictorial area","c":"A","x":75,"d":65},{"g":"pictorial area","c":"A","x":77.5,"d":68},{"g":"pictorial area","c":"A","x":80,"d":69},{"g":"pictorial area","c":"A","x":82.5,"d":65},{"g":"pictorial area","c":"A","x":85,"d":57},{"g":"pictorial area","c":"A","x":87.5,"d":45},{"g":"pictorial area","c":"A","x":90,"d":34},{"g":"pictorial area","c":"A","x":92.5,"d":24},{"g":"pictorial area","c":"A","x":95,"d":14.7},{"g":"pictorial area","c":"A","x":97.5,"d":30},{"g":"pictorial area","c":"A","x":100,"d":51.3},
{"g":"pictorial area","c":"B","x":0,"d":4},{"g":"pictorial area","c":"B","x":2.5,"d":2.5},{"g":"pictorial area","c":"B","x":5,"d":1},{"g":"pictorial area","c":"B","x":7.5,"d":0.3},{"g":"pictorial area","c":"B","x":10,"d":1.5},{"g":"pictorial area","c":"B","x":12.5,"d":3.5},{"g":"pictorial area","c":"B","x":15,"d":5.7},{"g":"pictorial area","c":"B","x":17.5,"d":10},{"g":"pictorial area","c":"B","x":20,"d":15},{"g":"pictorial area","c":"B","x":22.5,"d":21},{"g":"pictorial area","c":"B","x":25,"d":32},{"g":"pictorial area","c":"B","x":27.5,"d":29},{"g":"pictorial area","c":"B","x":30,"d":24},{"g":"pictorial area","c":"B","x":32.5,"d":20},{"g":"pictorial area","c":"B","x":35,"d":17},{"g":"pictorial area","c":"B","x":37.5,"d":14},{"g":"pictorial area","c":"B","x":40,"d":11},{"g":"pictorial area","c":"B","x":42.5,"d":9.5},{"g":"pictorial area","c":"B","x":45,"d":8.3},{"g":"pictorial area","c":"B","x":47.5,"d":12},{"g":"pictorial area","c":"B","x":50,"d":14.7},{"g":"pictorial area","c":"B","x":52.5,"d":20},{"g":"pictorial area","c":"B","x":55,"d":28},{"g":"pictorial area","c":"B","x":57.5,"d":38},{"g":"pictorial area","c":"B","x":60,"d":47},{"g":"pictorial area","c":"B","x":62.5,"d":49},{"g":"pictorial area","c":"B","x":65,"d":51},{"g":"pictorial area","c":"B","x":67.5,"d":54},{"g":"pictorial area","c":"B","x":70,"d":58},{"g":"pictorial area","c":"B","x":72.5,"d":64},{"g":"pictorial area","c":"B","x":75,"d":70},{"g":"pictorial area","c":"B","x":77.5,"d":73},{"g":"pictorial area","c":"B","x":80,"d":68},{"g":"pictorial area","c":"B","x":82.5,"d":58},{"g":"pictorial area","c":"B","x":85,"d":47},{"g":"pictorial area","c":"B","x":87.5,"d":36},{"g":"pictorial area","c":"B","x":90,"d":26},{"g":"pictorial area","c":"B","x":92.5,"d":19},{"g":"pictorial area","c":"B","x":95,"d":14.7},{"g":"pictorial area","c":"B","x":97.5,"d":20},{"g":"pictorial area","c":"B","x":100,"d":27.3},
{"g":"pictorial area","c":"C","x":0,"d":5.3},{"g":"pictorial area","c":"C","x":2.5,"d":7},{"g":"pictorial area","c":"C","x":5,"d":10},{"g":"pictorial area","c":"C","x":7.5,"d":11.7},{"g":"pictorial area","c":"C","x":10,"d":10},{"g":"pictorial area","c":"C","x":12.5,"d":7.3},{"g":"pictorial area","c":"C","x":15,"d":8.5},{"g":"pictorial area","c":"C","x":17.5,"d":12},{"g":"pictorial area","c":"C","x":20,"d":17},{"g":"pictorial area","c":"C","x":22.5,"d":18},{"g":"pictorial area","c":"C","x":25,"d":18},{"g":"pictorial area","c":"C","x":27.5,"d":23},{"g":"pictorial area","c":"C","x":30,"d":32.3},{"g":"pictorial area","c":"C","x":32.5,"d":38},{"g":"pictorial area","c":"C","x":35,"d":41.3},{"g":"pictorial area","c":"C","x":37.5,"d":37},{"g":"pictorial area","c":"C","x":40,"d":31},{"g":"pictorial area","c":"C","x":42.5,"d":20},{"g":"pictorial area","c":"C","x":45,"d":9},{"g":"pictorial area","c":"C","x":47.5,"d":11},{"g":"pictorial area","c":"C","x":50,"d":13.5},{"g":"pictorial area","c":"C","x":52.5,"d":17},{"g":"pictorial area","c":"C","x":55,"d":25},{"g":"pictorial area","c":"C","x":57.5,"d":35},{"g":"pictorial area","c":"C","x":60,"d":41},{"g":"pictorial area","c":"C","x":62.5,"d":45},{"g":"pictorial area","c":"C","x":65,"d":48},{"g":"pictorial area","c":"C","x":67.5,"d":45},{"g":"pictorial area","c":"C","x":70,"d":40},{"g":"pictorial area","c":"C","x":72.5,"d":35},{"g":"pictorial area","c":"C","x":75,"d":48},{"g":"pictorial area","c":"C","x":77.5,"d":49},{"g":"pictorial area","c":"C","x":80,"d":40},{"g":"pictorial area","c":"C","x":82.5,"d":31},{"g":"pictorial area","c":"C","x":85,"d":29.5},{"g":"pictorial area","c":"C","x":87.5,"d":29},{"g":"pictorial area","c":"C","x":90,"d":23},{"g":"pictorial area","c":"C","x":92.5,"d":18},{"g":"pictorial area","c":"C","x":95,"d":14.7},{"g":"pictorial area","c":"C","x":97.5,"d":15},{"g":"pictorial area","c":"C","x":100,"d":16.7},
{"g":"pie","c":"A","x":0,"d":7},{"g":"pie","c":"A","x":2.5,"d":4},{"g":"pie","c":"A","x":5,"d":1.5},{"g":"pie","c":"A","x":7.5,"d":0.5},{"g":"pie","c":"A","x":10,"d":2},{"g":"pie","c":"A","x":12.5,"d":5},{"g":"pie","c":"A","x":15,"d":6.3},{"g":"pie","c":"A","x":17.5,"d":7},{"g":"pie","c":"A","x":20,"d":7.5},{"g":"pie","c":"A","x":22.5,"d":7.7},{"g":"pie","c":"A","x":25,"d":7.5},{"g":"pie","c":"A","x":27.5,"d":7.5},{"g":"pie","c":"A","x":30,"d":7.7},{"g":"pie","c":"A","x":32.5,"d":7.5},{"g":"pie","c":"A","x":35,"d":6.5},{"g":"pie","c":"A","x":37.5,"d":5},{"g":"pie","c":"A","x":40,"d":4.3},{"g":"pie","c":"A","x":42.5,"d":5},{"g":"pie","c":"A","x":45,"d":7},{"g":"pie","c":"A","x":47.5,"d":8},{"g":"pie","c":"A","x":50,"d":9},{"g":"pie","c":"A","x":52.5,"d":11},{"g":"pie","c":"A","x":55,"d":13.5},{"g":"pie","c":"A","x":57.5,"d":17},{"g":"pie","c":"A","x":60,"d":24},{"g":"pie","c":"A","x":62.5,"d":32},{"g":"pie","c":"A","x":65,"d":40.3},{"g":"pie","c":"A","x":67.5,"d":47},{"g":"pie","c":"A","x":70,"d":53.5},{"g":"pie","c":"A","x":72.5,"d":58},{"g":"pie","c":"A","x":75,"d":63},{"g":"pie","c":"A","x":77.5,"d":65},{"g":"pie","c":"A","x":80,"d":61},{"g":"pie","c":"A","x":82.5,"d":57},{"g":"pie","c":"A","x":85,"d":56},{"g":"pie","c":"A","x":87.5,"d":55.5},{"g":"pie","c":"A","x":90,"d":53},{"g":"pie","c":"A","x":92.5,"d":45},{"g":"pie","c":"A","x":95,"d":38},{"g":"pie","c":"A","x":97.5,"d":68},{"g":"pie","c":"A","x":100,"d":102},
{"g":"pie","c":"B","x":0,"d":7},{"g":"pie","c":"B","x":2.5,"d":4},{"g":"pie","c":"B","x":5,"d":1.5},{"g":"pie","c":"B","x":7.5,"d":0.5},{"g":"pie","c":"B","x":10,"d":2},{"g":"pie","c":"B","x":12.5,"d":4.5},{"g":"pie","c":"B","x":15,"d":7},{"g":"pie","c":"B","x":17.5,"d":7.5},{"g":"pie","c":"B","x":20,"d":8},{"g":"pie","c":"B","x":22.5,"d":8.7},{"g":"pie","c":"B","x":25,"d":8},{"g":"pie","c":"B","x":27.5,"d":7.5},{"g":"pie","c":"B","x":30,"d":7},{"g":"pie","c":"B","x":32.5,"d":6.5},{"g":"pie","c":"B","x":35,"d":6},{"g":"pie","c":"B","x":37.5,"d":5},{"g":"pie","c":"B","x":40,"d":4.3},{"g":"pie","c":"B","x":42.5,"d":6},{"g":"pie","c":"B","x":45,"d":8},{"g":"pie","c":"B","x":47.5,"d":9.5},{"g":"pie","c":"B","x":50,"d":10.3},{"g":"pie","c":"B","x":52.5,"d":13},{"g":"pie","c":"B","x":55,"d":17},{"g":"pie","c":"B","x":57.5,"d":22},{"g":"pie","c":"B","x":60,"d":28},{"g":"pie","c":"B","x":62.5,"d":36},{"g":"pie","c":"B","x":65,"d":52},{"g":"pie","c":"B","x":67.5,"d":65},{"g":"pie","c":"B","x":70,"d":69},{"g":"pie","c":"B","x":72.5,"d":63},{"g":"pie","c":"B","x":75,"d":57},{"g":"pie","c":"B","x":77.5,"d":60},{"g":"pie","c":"B","x":80,"d":67},{"g":"pie","c":"B","x":82.5,"d":74},{"g":"pie","c":"B","x":85,"d":74},{"g":"pie","c":"B","x":87.5,"d":64},{"g":"pie","c":"B","x":90,"d":50},{"g":"pie","c":"B","x":92.5,"d":30},{"g":"pie","c":"B","x":95,"d":18},{"g":"pie","c":"B","x":97.5,"d":35},{"g":"pie","c":"B","x":100,"d":55.3},
{"g":"pie","c":"C","x":0,"d":8.7},{"g":"pie","c":"C","x":2.5,"d":6},{"g":"pie","c":"C","x":5,"d":2.5},{"g":"pie","c":"C","x":7.5,"d":1},{"g":"pie","c":"C","x":10,"d":1.5},{"g":"pie","c":"C","x":12.5,"d":2.5},{"g":"pie","c":"C","x":15,"d":3.7},{"g":"pie","c":"C","x":17.5,"d":5.5},{"g":"pie","c":"C","x":20,"d":7.5},{"g":"pie","c":"C","x":22.5,"d":9.5},{"g":"pie","c":"C","x":25,"d":10.5},{"g":"pie","c":"C","x":27.5,"d":11},{"g":"pie","c":"C","x":30,"d":11.5},{"g":"pie","c":"C","x":32.5,"d":13},{"g":"pie","c":"C","x":35,"d":19},{"g":"pie","c":"C","x":37.5,"d":19},{"g":"pie","c":"C","x":40,"d":10},{"g":"pie","c":"C","x":42.5,"d":5},{"g":"pie","c":"C","x":45,"d":4},{"g":"pie","c":"C","x":47.5,"d":10},{"g":"pie","c":"C","x":50,"d":16.3},{"g":"pie","c":"C","x":52.5,"d":15.5},{"g":"pie","c":"C","x":55,"d":16},{"g":"pie","c":"C","x":57.5,"d":24},{"g":"pie","c":"C","x":60,"d":29},{"g":"pie","c":"C","x":62.5,"d":37},{"g":"pie","c":"C","x":65,"d":52},{"g":"pie","c":"C","x":67.5,"d":63},{"g":"pie","c":"C","x":70,"d":60},{"g":"pie","c":"C","x":72.5,"d":56},{"g":"pie","c":"C","x":75,"d":50},{"g":"pie","c":"C","x":77.5,"d":50},{"g":"pie","c":"C","x":80,"d":53},{"g":"pie","c":"C","x":82.5,"d":60},{"g":"pie","c":"C","x":85,"d":65},{"g":"pie","c":"C","x":87.5,"d":55},{"g":"pie","c":"C","x":90,"d":43},{"g":"pie","c":"C","x":92.5,"d":32},{"g":"pie","c":"C","x":95,"d":20},{"g":"pie","c":"C","x":97.5,"d":28},{"g":"pie","c":"C","x":100,"d":47},
{"g":"bar","c":"A","x":66.1,"d":0,"k":"m"},{"g":"bar","c":"B","x":57.1,"d":0,"k":"m"},{"g":"bar","c":"C","x":55.0,"d":0,"k":"m"},
{"g":"pictorial area","c":"A","x":70.5,"d":0,"k":"m"},{"g":"pictorial area","c":"B","x":65.0,"d":0,"k":"m"},{"g":"pictorial area","c":"C","x":58.4,"d":0,"k":"m"},
{"g":"pie","c":"A","x":78.5,"d":0,"k":"m"},{"g":"pie","c":"B","x":74.7,"d":0,"k":"m"},{"g":"pie","c":"C","x":70.5,"d":0,"k":"m"}
]
},
"config": {
"view": {"stroke": null},
"font": "Liberation Sans",
"axis": {"domain": false, "labelFont": "Liberation Sans", "labelColor": "#4d4d4d", "labelFontSize": 8.8, "tickColor": "#333333", "titleFont": "Liberation Sans", "titleFontWeight": "normal", "titleFontSize": 11, "titleColor": "#000000"},
"axisY": {"minExtent": 0},
"header": {"labelAngle": 0, "labelAlign": "left", "labelOrient": "left", "labelFont": "Liberation Sans", "labelFontSize": 8.8, "labelColor": "#4d4d4d", "labelPadding": 2, "titleOrient": "left", "titleFont": "Liberation Sans", "titleFontSize": 8.8, "titleColor": "#1a1a1a", "titleFontWeight": "normal", "titleLineHeight": 9},
"title": {"font": "Liberation Sans", "fontSize": 11, "fontWeight": "normal", "color": "#000000", "anchor": "middle"},
"legend": {"orient": "none", "legendX": 149, "legendY": -38, "direction": "horizontal", "titleOrient": "left", "titleFont": "Liberation Sans", "titleFontSize": 11, "titleFontWeight": "normal", "titleColor": "#000000", "titlePadding": 6, "labelFont": "Liberation Sans", "labelFontSize": 8.8, "labelColor": "#1a1a1a", "labelOffset": 6, "columnPadding": 4.5, "symbolType": "square", "symbolSize": 289, "symbolStrokeWidth": 1}
},
"hconcat": [
{
"title": {"text": "Graph type", "orient": "left", "offset": 3, "anchor": "middle", "dx": 4},
"spacing": 11,
"vconcat": [
{
"data": {"name": "bar"},
"facet": {"row": {"field": "i", "type": "nominal", "title": "bar", "header": {"titlePadding": 17}}},
"spacing": 0,
"bounds": "flush",
"spec": {
"width": 274.5, "height": 26,
"encoding": {
"x": {"field": "x", "type": "quantitative", "scale": {"domain": [-5, 105], "nice": false, "zero": false}, "axis": {"values": [0, 12.5, 25, 37.5, 50, 62.5, 75, 87.5, 100], "labels": false, "ticks": false, "title": null, "gridColor": "#EBEBEB", "gridWidth": {"condition": {"test": "datum.value % 25 == 0", "value": 1.1}, "value": 0.55}}},
"y": {"field": "d", "type": "quantitative", "stack": null, "scale": {"domain": [0, 26], "range": [13, -13]}, "axis": {"values": [0], "labels": false, "grid": false, "domain": false, "tickSize": 3.5, "title": null}},
"color": {"field": "c", "type": "nominal", "scale": {"domain": ["A", "B", "C"], "range": ["#E69F00", "#56B4E9", "#F0E442"]}, "title": "Condition", "legend": {"labelExpr": "datum.label == 'A' ? 'Misleading' : datum.label == 'B' ? 'Correction: Clean' : 'Correction: Full'", "encode": {"symbols": {"update": {"fillOpacity": {"value": 0.6}, "strokeOpacity": {"value": 1}, "stroke": {"scale": "color", "field": "value"}}}}}}
},
"layer": [
{"transform": [{"filter": "datum.k != 'm'"}], "mark": {"type": "area", "interpolate": "monotone", "fillOpacity": 0.6, "line": {"strokeWidth": 0.8}}},
{"transform": [{"filter": "datum.k == 'm'"}], "mark": {"type": "circle", "size": 45, "opacity": 1}}
]
}
},
{
"data": {"name": "pict"},
"facet": {"row": {"field": "i", "type": "nominal", "title": ["pictorial", "area"], "header": {"titlePadding": 0}}},
"spacing": 0,
"bounds": "flush",
"spec": {
"width": 274.5, "height": 26,
"encoding": {
"x": {"field": "x", "type": "quantitative", "scale": {"domain": [-5, 105], "nice": false, "zero": false}, "axis": {"values": [0, 12.5, 25, 37.5, 50, 62.5, 75, 87.5, 100], "labels": false, "ticks": false, "title": null, "gridColor": "#EBEBEB", "gridWidth": {"condition": {"test": "datum.value % 25 == 0", "value": 1.1}, "value": 0.55}}},
"y": {"field": "d", "type": "quantitative", "stack": null, "scale": {"domain": [0, 26], "range": [13, -13]}, "axis": {"values": [0], "labels": false, "grid": false, "domain": false, "tickSize": 3.5, "title": null}},
"color": {"field": "c", "type": "nominal", "scale": {"domain": ["A", "B", "C"], "range": ["#E69F00", "#56B4E9", "#F0E442"]}, "title": "Condition"}
},
"layer": [
{"transform": [{"filter": "datum.k != 'm'"}], "mark": {"type": "area", "interpolate": "monotone", "fillOpacity": 0.6, "line": {"strokeWidth": 0.8}}},
{"transform": [{"filter": "datum.k == 'm'"}], "mark": {"type": "circle", "size": 45, "opacity": 1}}
]
}
},
{
"data": {"name": "pie"},
"facet": {"row": {"field": "i", "type": "nominal", "title": "pie", "header": {"titlePadding": 20.5}}},
"spacing": 0,
"bounds": "flush",
"spec": {
"width": 274.5, "height": 26,
"encoding": {
"x": {"field": "x", "type": "quantitative", "scale": {"domain": [-5, 105], "nice": false, "zero": false}, "axis": {"values": [0, 12.5, 25, 37.5, 50, 62.5, 75, 87.5, 100], "labelExpr": "datum.value % 25 == 0 ? datum.label : ''", "tickOpacity": {"condition": {"test": "datum.value % 25 == 0", "value": 1}, "value": 0}, "tickSize": 3, "labelPadding": 2, "offset": 4, "title": "Evaluation on VAS", "titlePadding": 1, "gridColor": "#EBEBEB", "gridWidth": {"condition": {"test": "datum.value % 25 == 0", "value": 1.1}, "value": 0.55}}},
"y": {"field": "d", "type": "quantitative", "stack": null, "scale": {"domain": [0, 26], "range": [13, -13]}, "axis": {"values": [0], "labels": false, "grid": false, "domain": false, "tickSize": 3.5, "title": null}},
"color": {"field": "c", "type": "nominal", "scale": {"domain": ["A", "B", "C"], "range": ["#E69F00", "#56B4E9", "#F0E442"]}, "title": "Condition"}
},
"layer": [
{"transform": [{"filter": "datum.k != 'm'"}], "mark": {"type": "area", "interpolate": "monotone", "fillOpacity": 0.6, "line": {"strokeWidth": 0.8}}},
{"transform": [{"filter": "datum.k == 'm'"}], "mark": {"type": "circle", "size": 45, "opacity": 1}}
]
}
}
]
},
{
"data": {"name": "right"},
"title": {"text": "Graph type", "orient": "left", "offset": 3, "anchor": "middle", "dx": 20},
"spacing": 0,
"bounds": "flush",
"vconcat": [
{
"width": 272.8, "height": 107.5,
"transform": [{"filter": "datum.g == 'bar'"}],
"encoding": {
"x": {"field": "x", "type": "quantitative", "scale": {"domain": [-5, 105], "nice": false, "zero": false}, "axis": {"values": [0, 12.5, 25, 37.5, 50, 62.5, 75, 87.5, 100], "labels": false, "ticks": false, "title": null, "gridColor": "#EBEBEB", "gridWidth": {"condition": {"test": "datum.value % 25 == 0", "value": 1.1}, "value": 0.55}}},
"y": {"field": "d", "type": "quantitative", "stack": null, "scale": {"domain": [0, 107.5], "range": [62, -45.5]}, "axis": {"values": [0], "labelExpr": "'bar'", "labelPadding": 2, "grid": false, "domain": false, "tickSize": 3.5, "title": null}},
"color": {"field": "c", "type": "nominal", "scale": {"domain": ["A", "B", "C"], "range": ["#E69F00", "#56B4E9", "#F0E442"]}, "title": "Condition"}
},
"layer": [
{"transform": [{"filter": "datum.k != 'm'"}], "mark": {"type": "area", "interpolate": "monotone", "fillOpacity": 0.6, "line": {"strokeWidth": 0.8}}},
{"transform": [{"filter": "datum.k == 'm'"}], "mark": {"type": "circle", "size": 45, "opacity": 1}}
]
},
{
"width": 272.8, "height": 107.5,
"transform": [{"filter": "datum.g == 'pictorial area'"}],
"encoding": {
"x": {"field": "x", "type": "quantitative", "scale": {"domain": [-5, 105], "nice": false, "zero": false}, "axis": {"values": [0, 12.5, 25, 37.5, 50, 62.5, 75, 87.5, 100], "labels": false, "ticks": false, "title": null, "gridColor": "#EBEBEB", "gridWidth": {"condition": {"test": "datum.value % 25 == 0", "value": 1.1}, "value": 0.55}}},
"y": {"field": "d", "type": "quantitative", "stack": null, "scale": {"domain": [0, 107.5], "range": [62, -45.5]}, "axis": {"values": [0], "labelExpr": "['pictorial', 'area']", "labelLineHeight": 9.5, "labelOffset": -5, "labelPadding": 2, "grid": false, "domain": false, "tickSize": 3.5, "title": null}},
"color": {"field": "c", "type": "nominal", "scale": {"domain": ["A", "B", "C"], "range": ["#E69F00", "#56B4E9", "#F0E442"]}, "title": "Condition"}
},
"layer": [
{"transform": [{"filter": "datum.k != 'm'"}], "mark": {"type": "area", "interpolate": "monotone", "fillOpacity": 0.6, "line": {"strokeWidth": 0.8}}},
{"transform": [{"filter": "datum.k == 'm'"}], "mark": {"type": "circle", "size": 45, "opacity": 1}}
]
},
{
"width": 272.8, "height": 127,
"transform": [{"filter": "datum.g == 'pie'"}],
"encoding": {
"x": {"field": "x", "type": "quantitative", "scale": {"domain": [-5, 105], "nice": false, "zero": false}, "axis": {"values": [0, 12.5, 25, 37.5, 50, 62.5, 75, 87.5, 100], "labelExpr": "datum.value % 25 == 0 ? datum.label : ''", "tickOpacity": {"condition": {"test": "datum.value % 25 == 0", "value": 1}, "value": 0}, "tickSize": 3, "labelPadding": 2, "offset": 13, "title": "Evaluation on VAS", "titlePadding": 1, "gridColor": "#EBEBEB", "gridWidth": {"condition": {"test": "datum.value % 25 == 0", "value": 1.1}, "value": 0.55}}},
"y": {"field": "d", "type": "quantitative", "stack": null, "scale": {"domain": [0, 107.5], "range": [62, -45.5]}, "axis": {"values": [0], "labelExpr": "'pie'", "labelPadding": 2, "grid": false, "domain": false, "tickSize": 3.5, "title": null}},
"color": {"field": "c", "type": "nominal", "scale": {"domain": ["A", "B", "C"], "range": ["#E69F00", "#56B4E9", "#F0E442"]}, "title": "Condition"}
},
"layer": [
{"transform": [{"filter": "datum.k != 'm'"}], "mark": {"type": "area", "interpolate": "monotone", "fillOpacity": 0.6, "line": {"strokeWidth": 0.8}}},
{"transform": [{"filter": "datum.k == 'm'"}], "mark": {"type": "circle", "size": 45, "opacity": 1}}
]
}
]
}
],
"spacing": 11.5
}
